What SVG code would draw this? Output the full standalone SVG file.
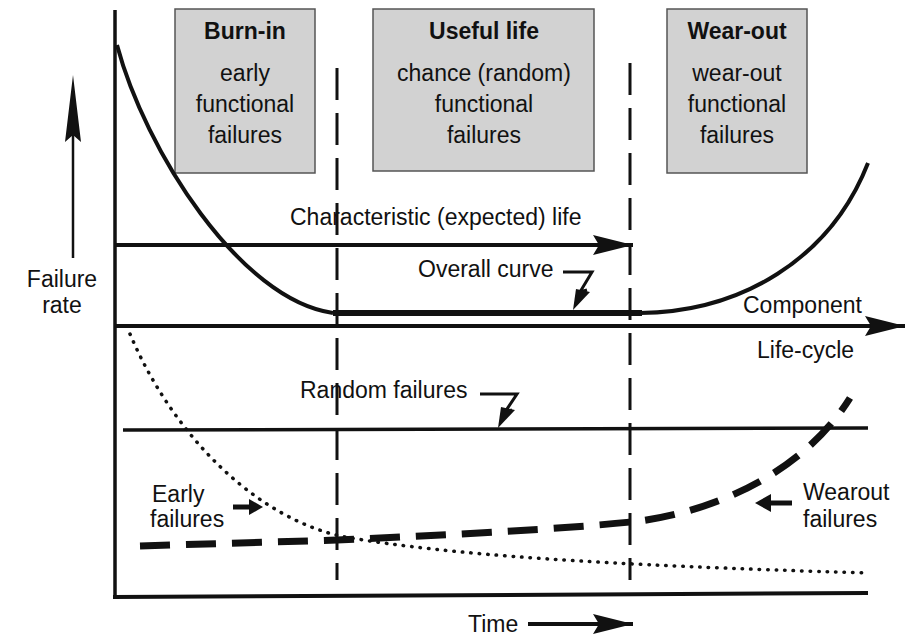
<svg xmlns="http://www.w3.org/2000/svg" width="907" height="637" viewBox="0 0 907 637">
<style>
text{font-family:"Liberation Sans",Arial,sans-serif;font-size:23px;fill:#111;}
.b{font-weight:bold;}
.m{text-anchor:middle;}
.box{fill:#d2d2d2;stroke:#555;stroke-width:1.5;}
.ln{fill:none;stroke:#111;stroke-linecap:butt;}
.vd{fill:none;stroke:#111;stroke-width:3;stroke-dasharray:32 13;}
</style>
<defs>
<marker id="ah" viewBox="0 0 40 20" refX="40" refY="10" markerWidth="40" markerHeight="20" markerUnits="userSpaceOnUse" orient="auto">
<path d="M0,0 L40,10 L0,20 L6,10 Z" fill="#111"/>
</marker>
</defs>
<rect width="907" height="637" fill="#fff"/>

<g id="burn-in">
<rect class="box" x="175" y="9" width="140" height="164"/>
<text class="b m" x="245" y="39">Burn-in</text>
<text class="m" x="245" y="81">early</text>
<text class="m" x="245" y="112">functional</text>
<text class="m" x="245" y="143">failures</text>
</g>
<g id="useful-life">
<rect class="box" x="373" y="9" width="221" height="162"/>
<text class="b m" x="484" y="39">Useful life</text>
<text class="m" x="484" y="81">chance (random)</text>
<text class="m" x="484" y="112">functional</text>
<text class="m" x="484" y="143">failures</text>
</g>
<g id="wear-out">
<rect class="box" x="667" y="9" width="140" height="164"/>
<text class="b m" x="737" y="39">Wear-out</text>
<text class="m" x="737" y="81">wear-out</text>
<text class="m" x="737" y="112">functional</text>
<text class="m" x="737" y="143">failures</text>
</g>

<g id="connectors">
<line class="ln" x1="115" y1="10" x2="115" y2="598" stroke-width="3.5"/>
<line class="ln" x1="113" y1="597" x2="868" y2="593" stroke-width="4"/>
<line class="ln" x1="115" y1="326" x2="905" y2="326" stroke-width="4" marker-end="url(#ah)"/>
<line class="ln" x1="73" y1="258" x2="73" y2="130" stroke-width="2.5"/>
<path d="M73,75 L81,142 L73,135 L65,142 Z" fill="#111"/>
<line class="vd" x1="337" y1="68" x2="337" y2="580"/>
<line class="vd" x1="630" y1="63" x2="630" y2="580"/>
<line class="ln" x1="115" y1="245" x2="633" y2="245" stroke-width="4" marker-end="url(#ah)"/>
<path class="ln" d="M117,45 C145,150 240,300 333,313" stroke-width="4"/>
<line class="ln" x1="333" y1="313" x2="642" y2="313" stroke-width="6"/>
<path class="ln" d="M640,313 C740,312 830,260 868,163" stroke-width="4"/>
<line class="ln" x1="123" y1="430" x2="868" y2="428" stroke-width="3.5"/>
<path d="M130,334 C175,440 260,520 345,537 C450,555 600,565 868,573" fill="none" stroke="#111" stroke-width="3.5" stroke-linecap="round" stroke-dasharray="0.5 8"/>
<path d="M140,546 L337,540 Q560,530 640,521 C720,510 805,470 850,398" fill="none" stroke="#111" stroke-width="7" stroke-dasharray="30 16"/>
<path class="ln" d="M563,272 H592 L580,292 L587,290" stroke-width="3"/>
<path d="M573,310 L576,289 L590,292 Z" fill="#111"/>
<path class="ln" d="M480,394 H517 L505,412 L512,410" stroke-width="3"/>
<path d="M498,428 L501,407 L515,410 Z" fill="#111"/>
<line class="ln" x1="233" y1="507" x2="252" y2="507" stroke-width="5"/>
<path d="M263,507 L249,499 L249,515 Z" fill="#111"/>
<line class="ln" x1="792" y1="503" x2="768" y2="503" stroke-width="5"/>
<path d="M755,503 L771,494 L771,512 Z" fill="#111"/>
<line class="ln" x1="528" y1="624" x2="633" y2="624" stroke-width="4" marker-end="url(#ah)"/>
</g>

<g id="labels">
<text x="290" y="225">Characteristic (expected) life</text>
<text x="418" y="277">Overall curve</text>
<text class="m" x="62" y="287">Failure</text>
<text class="m" x="62" y="313">rate</text>
<text x="743" y="313">Component</text>
<text x="757" y="358">Life-cycle</text>
<text x="300" y="398">Random failures</text>
<text x="152" y="502">Early</text>
<text x="150" y="527">failures</text>
<text x="803" y="500">Wearout</text>
<text x="803" y="527">failures</text>
<text x="468" y="632">Time</text>
</g>
</svg>
